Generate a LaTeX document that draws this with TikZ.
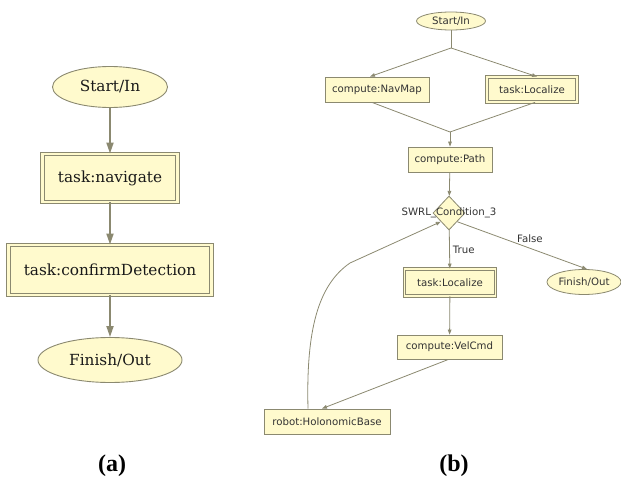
\documentclass[tikz,border=0pt]{standalone}
\usepackage{fontspec}
\setmainfont{Liberation Serif}
\newfontfamily\serifa{DejaVu Serif}
\newfontfamily\sansb{DejaVu Sans}
\usetikzlibrary{shapes.geometric,arrows.meta}
\definecolor{chiffon}{HTML}{FFFACD}
\definecolor{chiffonline}{HTML}{8B8970}

\begin{document}
\begin{tikzpicture}[x=1pt,y=-1pt,
  boxa/.style={draw=chiffonline,fill=chiffon,line width=.9pt,inner sep=0pt,
    text=black!90,font=\serifa\fontsize{15.3}{18}\selectfont},
  boxb/.style={draw=chiffonline,fill=chiffon,line width=.8pt,inner sep=0pt,
    text=black!80,font=\sansb\fontsize{10.2}{12}\selectfont},
  taska/.style={boxa,double=chiffon,double distance=2.6pt},
  taskb/.style={boxb,double=chiffon,double distance=1.6pt},
  linka/.style={draw=chiffonline,line width=1.8pt,-{Triangle[width=7pt,length=11pt]}},
  linkb/.style={draw=chiffonline,line width=.8pt,-{Triangle[width=3.6pt,length=5pt]}},
  lbl/.style={font=\sansb\fontsize{10.2}{12}\selectfont,text=black!80,inner sep=1pt}]
\useasboundingbox (0,0) rectangle (621,481);

% (a)
\node [boxa,ellipse,minimum width=115pt,minimum height=41pt] (startA) at (110,87) {Start/In};
\node [taska,minimum width=135pt,minimum height=48pt] (navA) at (110,178) {task:navigate};
\node [taska,minimum width=203pt,minimum height=50pt] (confA) at (110,270) {task:confirmDetection};
\node [boxa,ellipse,minimum width=144pt,minimum height=45pt] (finA) at (110,360) {Finish/Out};

\draw [linka] (startA) -- (navA);
\draw [linka] (navA) -- (confA);
\draw [linka] (confA) -- (finA);

% (b)
\node [boxb,ellipse,minimum width=69pt,minimum height=18pt] (startB) at (451,21) {Start/In};
\node [boxb,minimum width=104pt,minimum height=25pt] (navmap) at (377,89.5) {compute:NavMap};
\node [taskb,minimum width=90pt,minimum height=25pt] (locA) at (532,89.5) {task:Localize};
\node [boxb,minimum width=84pt,minimum height=25pt] (path) at (450,159.5) {compute:Path};
\node [boxb,diamond,minimum width=32pt,minimum height=34pt,
  label={[lbl]center:SWRL\_Condition\_3}] (cond) at (449,213) {};
\node [taskb,minimum width=91pt,minimum height=27pt] (locB) at (450,282.5) {task:Localize};
\node [boxb,ellipse,minimum width=74pt,minimum height=25pt] (finB) at (584,282) {Finish/Out};
\node [boxb,minimum width=105pt,minimum height=24pt] (velcmd) at (449.5,347) {compute:VelCmd};
\node [boxb,minimum width=126pt,minimum height=25pt] (holo) at (327,421.5) {robot:HolonomicBase};

\coordinate (split) at (451,48);
\coordinate (join) at (450,132);
\coordinate (bend) at (350,263);

\draw [draw=chiffonline,line width=.8pt] (startB) -- (split);
\draw [linkb] (split) -- ([xshift=-7pt]navmap.north);
\draw [linkb] (split) -- ([xshift=5pt]locA.north);
\draw [draw=chiffonline,line width=.8pt] ([xshift=-5pt]navmap.south) -- (join);
\draw [draw=chiffonline,line width=.8pt] ([xshift=3pt]locA.south) -- (join);
\draw [linkb] (join) -- (path);
\draw [linkb] (path) -- (cond);
\draw [linkb] (cond) -- node [lbl,right,xshift=2pt] {True} (locB);
\draw [linkb] (cond.south east) -- node [lbl,pos=.56,above,yshift=4pt] {False} ([xshift=3pt]finB.north);
\draw [linkb] (locB) -- (velcmd);
\draw [linkb] ([xshift=-1pt]velcmd.south) -- ([xshift=-5pt]holo.north);
\draw [linkb] ([xshift=-19pt]holo.north) .. controls (306,330) and (318,285) .. (bend) -- (cond.south west);

% captions
\node [font=\bfseries\fontsize{24}{27}\selectfont] (capA) at (112,466) {(a)};
\node [font=\bfseries\fontsize{24}{27}\selectfont] (capB) at (454,466) {(b)};
\end{tikzpicture}
\end{document}
